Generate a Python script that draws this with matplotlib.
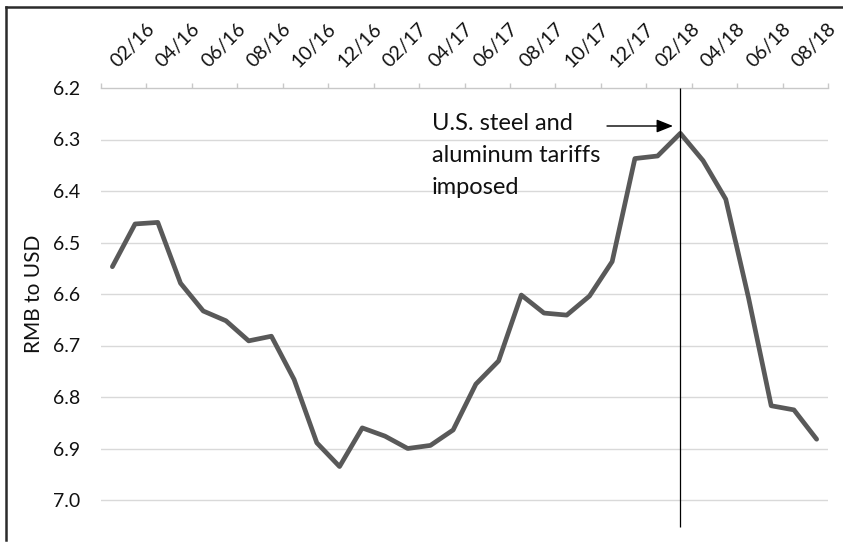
import matplotlib
matplotlib.use("Agg")
import matplotlib.pyplot as plt
from matplotlib.lines import Line2D

plt.rcParams['font.family'] = ['Lato', 'DejaVu Sans']

# Monthly RMB per USD exchange rate
months = ['02/16', '03/16', '04/16', '05/16', '06/16', '07/16', '08/16', '09/16',
          '10/16', '11/16', '12/16', '01/17', '02/17', '03/17', '04/17', '05/17',
          '06/17', '07/17', '08/17', '09/17', '10/17', '11/17', '12/17', '01/18',
          '02/18', '03/18', '04/18', '05/18', '06/18', '07/18', '08/18', '09/18']
rmb_per_usd = [6.547, 6.464, 6.461, 6.579, 6.633, 6.652, 6.691, 6.682,
               6.766, 6.889, 6.935, 6.860, 6.876, 6.900, 6.894, 6.864,
               6.775, 6.730, 6.602, 6.637, 6.641, 6.604, 6.537, 6.337,
               6.332, 6.288, 6.341, 6.416, 6.607, 6.817, 6.825, 6.882]
y_ticks = [6.2, 6.3, 6.4, 6.5, 6.6, 6.7, 6.8, 6.9, 7.0]
tariff_month = '03/18'
note_lines = ['U.S. steel and', 'aluminum tariffs', 'imposed']

W, H = 843, 543
fig = plt.figure(figsize=(W / 100, H / 100), dpi=100)

def fx(px):
    return px / W

def fy(py):
    return 1 - py / H

PT = 72 / 100  # points per pixel

ax_top_px, ax_left_px, ax_right_px = 88, 101, 828
ax = fig.add_axes([fx(ax_left_px), 0, fx(ax_right_px - ax_left_px), 1 - ax_top_px / H])

x = list(range(len(months)))
ax.plot(x, rmb_per_usd, color='#595959', lw=3.4, solid_capstyle='round',
        solid_joinstyle='round', zorder=3)

# reversed value axis, category axis along the top
px_per_unit = 515.0
ax.set_ylim(6.2 + (H - ax_top_px) / px_per_unit, 6.2)
ax.set_xlim(-0.5, len(months) - 0.5)

grid_c = '#d9d9d9'
for v in y_ticks[1:]:
    ax.axhline(v, color=grid_c, lw=1.0, zorder=1)

for s in ['left', 'right', 'bottom']:
    ax.spines[s].set_visible(False)
ax.spines['top'].set_color('#c8c8c8')
ax.spines['top'].set_linewidth(1.0)

txt_c = '#111111'
ax.set_yticks(y_ticks)
ax.set_yticklabels([f'{v:.1f}' for v in y_ticks], fontsize=14, color=txt_c)
ax.tick_params(axis='y', length=0, pad=15)

ax.xaxis.tick_top()
ax.set_xticks([i - 0.5 for i in range(0, len(months) + 1, 2)])
ax.set_xticklabels([])
ax.tick_params(axis='x', which='major', length=3.6, width=1.0, color='#c8c8c8',
               direction='out', top=True, bottom=False)

# rotated month labels every second category
for i in range(0, len(months), 2):
    ax.annotate(months[i], xy=(i, 1.0), xycoords=('data', 'axes fraction'),
                xytext=(5 * PT, 19.5 * PT), textcoords='offset points',
                rotation=45, rotation_mode='anchor', ha='left', va='baseline',
                fontsize=14, color=txt_c, annotation_clip=False)

# tariff marker line
ti = months.index(tariff_month)
ax.vlines(ti, 6.2, 6.2 + (527 - ax_top_px) / px_per_unit, color='black', lw=0.9, zorder=4)

# annotation
for txt, base in zip(note_lines, [129.5, 162, 194]):
    fig.text(fx(432), fy(base), txt, fontsize=17, color=txt_c,
             ha='left', va='baseline')
ax.annotate('', xy=(fx(673), fy(126)), xytext=(fx(607), fy(126)),
            xycoords='figure fraction', textcoords='figure fraction',
            arrowprops=dict(arrowstyle='-|>,head_length=0.5,head_width=0.2',
                            color='black', lw=1.0, mutation_scale=20,
                            shrinkA=0, shrinkB=0))

fig.text(fx(33.5), fy(294), 'RMB to USD', rotation=90, fontsize=15,
         color=txt_c, ha='center', va='center')

# chart frame (left and top edges)
frame_c = '#2b2b2b'
fig.add_artist(Line2D([fx(5.5), fx(5.5)], [fy(6.5), fy(540)], color=frame_c, lw=1.8))
fig.add_artist(Line2D([fx(5.5), 1.0], [fy(6.5), fy(6.5)], color=frame_c, lw=1.8))

fig.savefig('out.png', dpi=100)
